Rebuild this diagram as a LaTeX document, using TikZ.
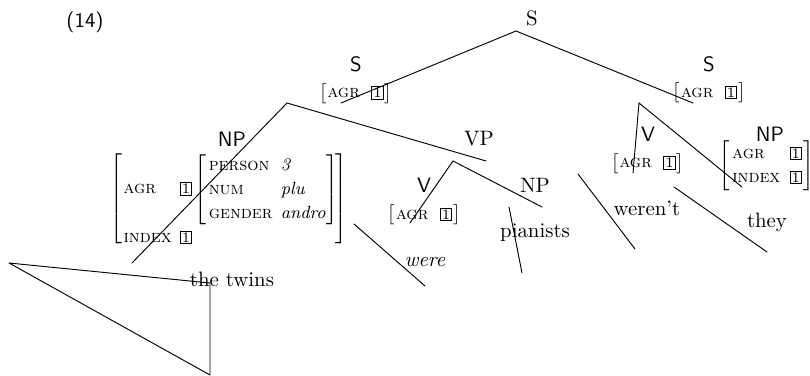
\documentclass[tikz,border=0pt]{standalone}
\usepackage{amsmath}
\newcommand\tagbox[1]{{\setlength{\fboxsep}{0.5pt}\setlength{\fboxrule}{0.4pt}\fbox{\scriptsize\upshape #1}}}
\newcommand\ft[1]{\textsc{#1}}
\newcommand\agrone{$\bigl[\hspace{0.5pt}\ft{agr}\hspace{5.5pt}\tagbox{1}\hspace{0.5pt}\bigr]$}
\begin{document}
\begin{tikzpicture}[x=0.48pt,y=-0.48pt,
  catsf/.style={font=\sffamily, inner sep=0pt},
  catrm/.style={font=\rmfamily, inner sep=0pt},
  word/.style={font=\rmfamily, anchor=base, inner sep=0pt},
  avm/.style={inner sep=0pt, font=\fontsize{8.5}{11.5}\selectfont},
  branch/.style={line width=0.45pt, line cap=round}]
\useasboundingbox (0,0) rectangle (810,376);

% example number and category labels
\node[catsf] (exno) at (85,22) {(14)};
\node[catrm] (sroot) at (532,18) {S};
\node[catsf] (sleft) at (356,64) {S};
\node[catsf] (sright) at (709,64) {S};
\node[catsf] (npsubj) at (232,139) {NP};
\node[catrm] (vp) at (479,139) {VP};
\node[catsf] (vmid) at (424,185) {V};
\node[catrm] (npobj) at (535,185) {NP};
\node[catsf] (vright) at (648,134) {V};
\node[catsf] (npright) at (770,134) {NP};

% feature structures
\node[avm] (sleftavm) at (355.5,93.5) {\agrone};
\node[avm] (srightavm) at (709,93) {\agrone};
\node[avm] (vmidavm) at (424,215) {\agrone};
\node[avm] (vrightavm) at (647.5,163.5) {\agrone};
\node[avm] (nprightavm) at (767,165.5)
  {$\left[\begin{array}{@{\hspace{1pt}}l@{\hspace{4.5pt}}l@{\hspace{1pt}}}
     \ft{agr} & \tagbox{1}\\
     \ft{index} & \tagbox{1}
   \end{array}\right]$};
\node[avm] (npsubjavm) at (229,199)
  {$\left[\begin{array}{@{\hspace{0.5pt}}l@{\hspace{4pt}}l@{\hspace{-1.5pt}}}
     \ft{agr} & \tagbox{1}\left[\begin{array}{@{\hspace{1pt}}l@{\hspace{4pt}}l@{\hspace{0.5pt}}}
        \ft{person} & \textit{3}\\
        \ft{num} & \textit{plu}\\
        \ft{gender} & \textit{andro}
      \end{array}\right]\\[-4pt]
     \raisebox{-4pt}{\ft{index}} & \raisebox{-4pt}{\tagbox{1}}
   \end{array}\right]$};

% terminal words
\node[word] (wtwins) at (232,287) {the twins};
\node[word] (wwere) at (425,267) {\textit{were}};
\node[word] (wpianists) at (535,238) {pianists};
\node[word] (wwerent) at (647,216) {weren't};
\node[word] (wthey) at (767,228) {they};

% branch end points
\coordinate (top) at (516,31);
\coordinate (topL) at (341,103);
\coordinate (topR) at (693,103);
\coordinate (lv) at (287,103);
\coordinate (lvNP) at (132,263);
\coordinate (lvVP) at (486,161);
\coordinate (vpv) at (453,161);
\coordinate (vpvV) at (410,223);
\coordinate (vpvNP) at (542,207);
\coordinate (pA) at (509,207);
\coordinate (pB) at (522,273);
\coordinate (wA) at (354,224);
\coordinate (wB) at (425,286);
\coordinate (triA) at (9,263);
\coordinate (triB) at (210,283);
\coordinate (triC) at (210,375);
\coordinate (rv) at (639,103);
\coordinate (rvV) at (633,173);
\coordinate (rvNP) at (742,187);
\coordinate (nA) at (578,174);
\coordinate (nB) at (635,249);
\coordinate (tA) at (674,187);
\coordinate (tB) at (767,252);

% branches
\draw[branch] (topL) -- (top) -- (topR);
\draw[branch] (lvNP) -- (lv) -- (lvVP);
\draw[branch] (vpvV) -- (vpv) -- (vpvNP);
\draw[branch] (pA) -- (pB);
\draw[branch] (wA) -- (wB);
\draw[branch, line join=round] (triA) -- (triB) -- (triC) -- cycle;
\draw[branch] (rvV) -- (rv) -- (rvNP);
\draw[branch] (nA) -- (nB);
\draw[branch] (tA) -- (tB);
\end{tikzpicture}
\end{document}
